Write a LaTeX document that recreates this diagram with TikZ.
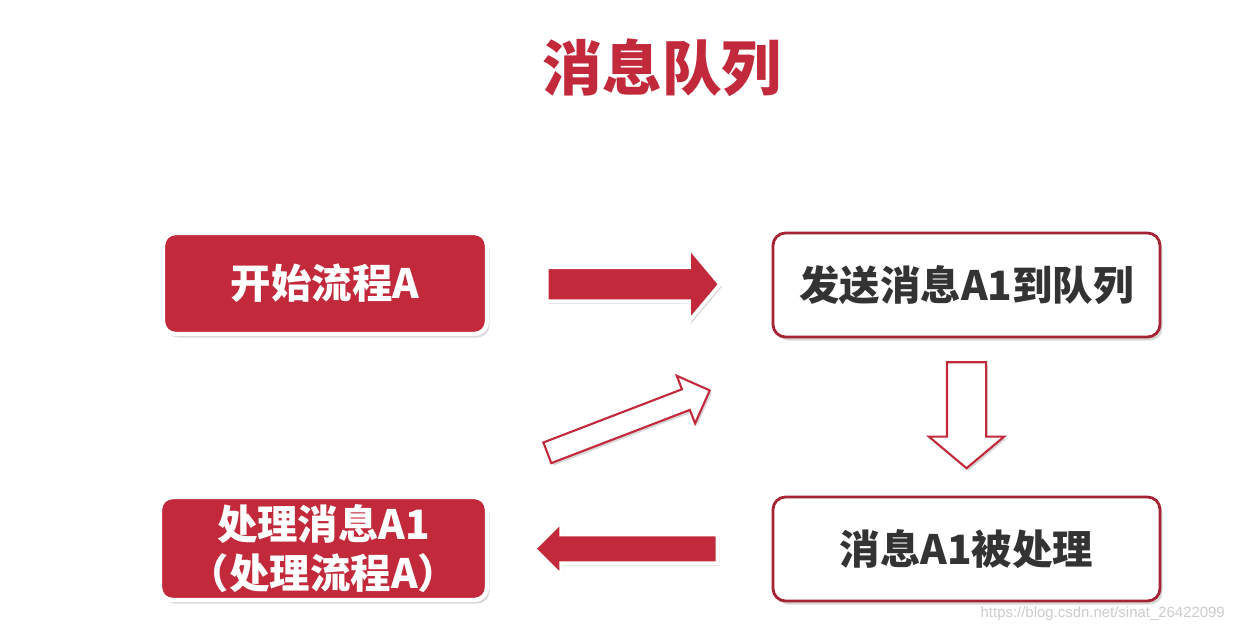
\documentclass[tikz,border=0pt]{standalone}
\usepackage{fontspec}
\newfontfamily\cjk{Noto Sans CJK SC}
\newfontfamily\wmfont{Liberation Sans}
\usetikzlibrary{shapes.arrows,shadows,calc}

\definecolor{mqred}{HTML}{C22A3C}
\definecolor{mqdark}{HTML}{333333}

\tikzset{
    redbox/.style={draw=white, line width=2.5pt, fill=mqred, rounded corners=0.25cm,
        text=white, font=\cjk\bfseries\fontsize{23}{28}\selectfont, align=center,
        drop shadow={opacity=0.3, shadow xshift=0.05cm, shadow yshift=-0.07cm}},
    whitebox/.style={draw=mqred!85!black, line width=1.6pt, fill=white, rounded corners=0.25cm,
        text=mqdark, font=\cjk\bfseries\fontsize{23}{28}\selectfont, align=center,
        drop shadow={opacity=0.3, shadow xshift=0.05cm, shadow yshift=-0.07cm}},
    redarrow/.style={single arrow, fill=mqred, draw=white, line width=2pt, inner xsep=0pt,
        drop shadow={opacity=0.3, shadow xshift=0.04cm, shadow yshift=-0.05cm}},
    hollowarrow/.style={single arrow, fill=white, draw=mqred, line width=1.2pt, inner xsep=0pt,
        drop shadow={opacity=0.3, shadow xshift=0.04cm, shadow yshift=-0.05cm}}
}

\begin{document}
\begin{tikzpicture}
    \useasboundingbox[fill=white] (0,0) rectangle (24.78,-12.68);

    % title
    \node[text=mqred, font=\cjk\bfseries\fontsize{34}{40}\selectfont] (title) at (13.24,-1.36) {消息队列};

    % the four steps
    \node[redbox, minimum width=6.48cm, minimum height=2.02cm] (start) at (6.5,-5.67) {开始流程A};
    \node[whitebox, minimum width=7.74cm, minimum height=2.08cm] (send) at (19.33,-5.7) {发送消息A1到队列};
    \node[whitebox, minimum width=7.74cm, minimum height=2.08cm] (done) at (19.33,-10.98) {消息A1被处理};
    \node[redbox, minimum width=6.54cm, minimum height=2.06cm] (handle) at (6.47,-10.97) {处理消息A1\\（处理流程A）};

    % arrows between the steps
    \node[redarrow, minimum height=3.46cm, inner ysep=0.3cm, single arrow head extend=0.4cm,
        single arrow tip angle=100] (startsend) at ($(start.east)!0.5!(send.west)+(-0.08,0)$) {};
    \node[hollowarrow, minimum height=2.12cm, inner ysep=0.37cm, single arrow head extend=0.36cm,
        single arrow tip angle=100, rotate=-90] (senddone) at ($(send.south)!0.5!(done.north)+(0,0.2)$) {};
    \node[redarrow, minimum height=3.66cm, inner ysep=0.25cm, single arrow head extend=0.25cm,
        single arrow tip angle=90, rotate=180] (donehandle) at ($(done.west)!0.5!(handle.east)+(0.05,0)$) {};
    \node[hollowarrow, minimum height=3.48cm, inner ysep=0.2cm, single arrow head extend=0.29cm,
        single arrow tip angle=90, rotate=21] (handlesend) at ($(handle.north east)!0.5!(send.south west)+(-0.14,-0.14)$) {};

    % watermark
    \node[anchor=east, text=black!20, font=\wmfont\fontsize{8.5}{10}\selectfont] (mark) at (24.62,-12.28) {https://blog.csdn.net/sinat\_26422099};
\end{tikzpicture}
\end{document}
